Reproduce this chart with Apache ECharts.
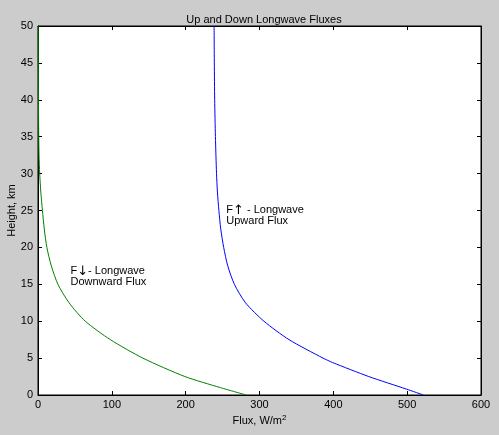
<!DOCTYPE html>
<html>
<head>
<meta charset="utf-8">
<script src="https://cdn.jsdelivr.net/npm/echarts@6/dist/echarts.min.js"></script>
<style>
html,body{margin:0;padding:0;background:#cccccc;}
#c{width:499px;height:435px;}
</style>
</head>
<body>
<div id="c"></div>
<script>
// Heights (km) and fluxes (W/m^2)
const downHeights = [0, 1, 2.5, 5, 7.5, 10, 12.5, 15, 17.5, 20, 22.5, 25, 27.5, 30, 32.5, 35, 40, 45, 50];
const downFlux    = [282, 247, 199, 142, 98, 64, 42, 27, 18, 12, 8.5, 6, 3.8, 2.3, 1.4, 1.0, 0.6, 0.4, 0.2];
const upHeights   = [0, 0.8, 2.5, 4.4, 5, 7.5, 10, 12.5, 15, 17.5, 20, 22.5, 25, 27.5, 30, 35, 40, 45, 50];
const upFlux      = [522, 499, 448, 399, 386, 340, 306, 281, 266, 257, 251.5, 247.5, 245, 243, 241.8, 240.3, 239.3, 238.8, 238.5];
const xTicks = [0, 100, 200, 300, 400, 500, 600];
const yTicks = [0, 5, 10, 15, 20, 25, 30, 35, 40, 45, 50];
const upLabel   = {x: 255, y: 24.3, text: 'F{arr|\u2191} - Longwave\nUpward Flux'};
const downLabel = {x: 44, y: 16, text: 'F{arr|\u2193}- Longwave\nDownward Flux'};

const FONT = 'Liberation Sans, Arial, sans-serif';
const pairs = (xs, ys) => xs.map((v, i) => [v, ys[i]]);

const chart = echarts.init(document.getElementById('c'));
const axisCommon = {
  axisLine: {show: true, onZero: false, lineStyle: {color: '#000', width: 1}},
  axisTick: {show: true, inside: true, length: 4, lineStyle: {color: '#000'}},
  splitLine: {show: false}
};
const noteLabel = (text) => ({
  show: true, position: 'right', distance: 0, formatter: text,
  fontFamily: FONT, fontSize: 11, lineHeight: 11, color: '#000', align: 'left',
  rich: {arr: {fontFamily: 'DejaVu Sans', fontSize: 13, lineHeight: 11, color: '#000'}}
});
chart.setOption({
  backgroundColor: '#cccccc',
  animation: false,
  title: {
    text: 'Up and Down Longwave Fluxes',
    left: 259, top: 9, textAlign: 'center',
    textStyle: {fontFamily: FONT, fontSize: 11, fontWeight: 'normal', color: '#000'}
  },
  grid: {left: 38, right: 18, top: 26, bottom: 40, containLabel: false, outerBoundsMode: 'none',
    show: true, backgroundColor: '#fff', borderColor: '#000', borderWidth: 1},
  xAxis: [
    Object.assign({}, axisCommon, {
      type: 'value', min: xTicks[0], max: xTicks[xTicks.length - 1], interval: 100, position: 'bottom',
      name: 'Flux, W/m{sup|2}', nameLocation: 'middle', nameGap: 19, nameMoveOverlap: false,
      nameTextStyle: {fontFamily: FONT, fontSize: 11, color: '#000',
        rich: {sup: {fontFamily: FONT, fontSize: 8, color: '#000', verticalAlign: 'top', padding: [0, 0, 5, 0]}}},
      axisLabel: {fontFamily: FONT, fontSize: 11, color: '#000', margin: 4}
    }),
    Object.assign({}, axisCommon, {
      type: 'value', min: 0, max: 600, interval: 100, position: 'top',
      axisLabel: {show: false}
    })
  ],
  yAxis: [
    Object.assign({}, axisCommon, {
      type: 'value', min: yTicks[0], max: yTicks[yTicks.length - 1], interval: 5, position: 'left',
      name: 'Height, km', nameLocation: 'middle', nameGap: 21, nameMoveOverlap: false,
      nameTextStyle: {fontFamily: FONT, fontSize: 11, color: '#000'},
      axisLabel: {fontFamily: FONT, fontSize: 11, color: '#000', margin: 5}
    }),
    Object.assign({}, axisCommon, {
      type: 'value', min: 0, max: 50, interval: 5, position: 'right',
      axisLabel: {show: false}
    })
  ],
  series: [
    {
      type: 'line', xAxisIndex: 0, yAxisIndex: 0,
      data: pairs(downFlux, downHeights),
      showSymbol: false, smooth: 0.25,
      lineStyle: {color: '#008000', width: 1}, itemStyle: {color: '#008000'},
      markPoint: {
        symbol: 'circle', symbolSize: 0, silent: true,
        data: [{coord: [downLabel.x, downLabel.y]}],
        label: noteLabel(downLabel.text)
      }
    },
    {
      type: 'line', xAxisIndex: 0, yAxisIndex: 0,
      data: pairs(upFlux, upHeights),
      showSymbol: false, smooth: 0.25,
      lineStyle: {color: '#0000ff', width: 1}, itemStyle: {color: '#0000ff'},
      markPoint: {
        symbol: 'circle', symbolSize: 0, silent: true,
        data: [{coord: [upLabel.x, upLabel.y]}],
        label: noteLabel(upLabel.text)
      }
    }
  ]
});
</script>
</body>
</html>
